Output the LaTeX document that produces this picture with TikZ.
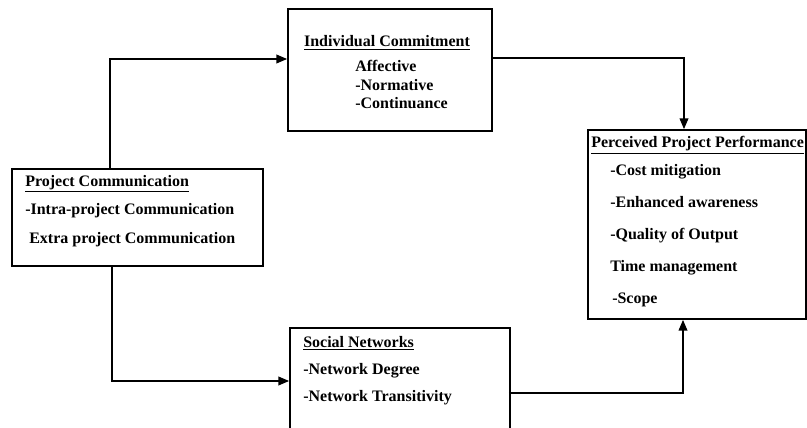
\documentclass[tikz,border=0pt]{standalone}
\usepackage{fontspec}
\setmainfont{Liberation Serif}
\usetikzlibrary{arrows.meta,calc}

\tikzset{
  box/.style={rectangle,draw,line width=1.3pt,inner sep=0pt},
  txt/.style={anchor=north west,align=left,inner sep=0pt,
    font=\bfseries\fontsize{12}{#1}\selectfont},
  flow/.style={line width=1pt,-{Triangle[length=8pt,width=6.5pt]}}
}

\begin{document}
\begin{tikzpicture}[x=0.75pt,y=-0.75pt]
  \useasboundingbox (0,0) rectangle (807,428);
  % boxes
  \node(pc)[box,minimum width=188.25pt,minimum height=72.75pt] at (137.5,217.5) {};
  \node(ic)[box,minimum width=153pt,minimum height=91.5pt] at (390,70) {};
  \node(pp)[box,minimum width=163.5pt,minimum height=141.75pt] at (697,224.5) {};
  \node(sn)[box,minimum width=165pt,minimum height=84pt] at (400,384) {};
  % texts
  \node(pctxt)[txt=21.4pt] at (25,175) {\underline{Project Communication}\\
    -Intra-project Communication\\
    \hspace{3pt}Extra project Communication};
  \node(ichead)[txt=14pt,anchor=base] at (387,47) {\underline{Individual Commitment}};
  \node(ictxt)[txt=14pt] at (355,60) {Affective\\-Normative\\-Continuance};
  \node(pphead)[txt=14pt] at (591,136) {\underline{Perceived Project Performance}};
  \node(pptxt)[txt=24pt] at (610,164) {-Cost mitigation\\
    -Enhanced awareness\\
    -Quality of Output\\
    Time management\\
    \hspace{1.5pt}-Scope};
  \node(sntxt)[txt=20.25pt] at (303,336) {\underline{Social Networks}\\
    -Network Degree\\
    -Network Transitivity};
  % connectors
  \draw[flow]($(pc.north)+(-27.5,0)$) |- ($(ic.west)+(0,-11)$);
  \draw[flow]($(pc.south)+(-25.5,0)$) |- ($(sn.west)+(0,-3)$);
  \draw[flow]($(ic.east)+(0,-12)$) -| ($(pp.north)+(-13,0)$);
  \draw[flow]($(sn.east)+(-2,9)$) -| ($(pp.south)+(-14,0)$);
\end{tikzpicture}
\end{document}
